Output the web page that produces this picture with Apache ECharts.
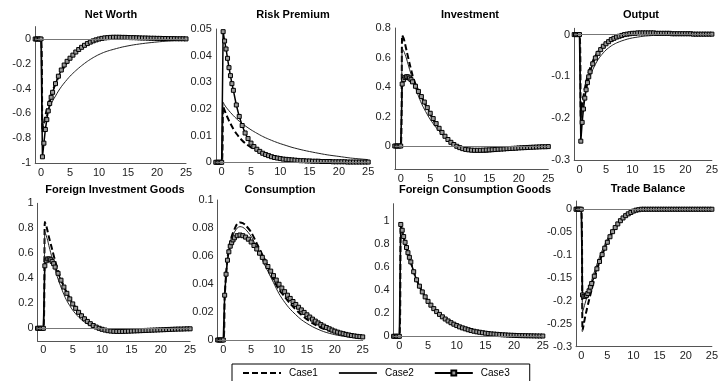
<!DOCTYPE html>
<html><head><meta charset="utf-8">
<script src="https://cdn.jsdelivr.net/npm/echarts@6/dist/echarts.min.js"></script>
<style>html,body{margin:0;padding:0;background:#fff}#c{width:721px;height:381px}</style>
</head><body><div id="c"></div>
<script>
// time grid for Case3 (marker series) and for Case1/Case2 lines
const markT = [-1,-0.75,-0.5,-0.25,0,0.25,0.5,0.75,1,1.25,1.5,1.75,2,
  2.5,3,3.5,4,4.5,5,5.5,6,6.5,7,
  7.5,8,8.5,9,9.5,10,10.5,11,11.5,12,
  12.5,13,13.5,14,14.5,15,15.5,16,16.5,17,
  17.5,18,18.5,19,19.5,20,20.5,21,21.5,22,
  22.5,23,23.5,24,24.5,25];
const lineT = [-1,0,0.25,0.5,0.75,1,1.5,2,2.5,3,3.5,4,5,6,7,8,9,10,11,12,14,16,18,20,22,25];
const xTicks = [0,5,10,15,20,25];
const legendNames = ['Case1','Case2','Case3'];

// Net Worth
const netWorth1 = [0,0,-0.75,-0.68,-0.62,-0.57,-0.49,-0.42,-0.36,-0.31,-0.265,-0.225,-0.16,-0.11,-0.07,-0.04,-0.018,-0.003,0.006,0.01,0.012,0.01,0.008,0.006,0.004,0.002];
const netWorth2 = [0,0,-0.72,-0.68,-0.64,-0.61,-0.55,-0.5,-0.46,-0.42,-0.385,-0.355,-0.3,-0.255,-0.215,-0.18,-0.15,-0.125,-0.105,-0.09,-0.065,-0.047,-0.034,-0.024,-0.016,-0.008];
const netWorth3 = [0,0,0,0,0,-0.95,-0.84,-0.73,-0.65,-0.58,-0.52,-0.47,-0.43,
  -0.36,-0.30,-0.25,-0.21,-0.18,-0.155,-0.13,-0.105,-0.085,-0.067,
  -0.051,-0.037,-0.025,-0.015,-0.007,0,0.005,0.009,0.011,0.013,
  0.014,0.014,0.014,0.013,0.013,0.012,0.011,0.011,0.01,0.009,
  0.008,0.008,0.007,0.006,0.006,0.005,0.005,0.004,0.004,0.003,
  0.003,0.003,0.002,0.002,0.002,0.001];
// Risk Premium
const riskPremium1 = [0,0,0.021,0.0195,0.018,0.0168,0.0145,0.0125,0.0108,0.0094,0.0082,0.0072,0.0056,0.0044,0.0034,0.0027,0.0021,0.0017,0.0013,0.001,0.0007,0.0005,0.0003,0.0002,0.0001,0];
const riskPremium2 = [0,0,0.0225,0.0215,0.0207,0.02,0.0187,0.0175,0.0164,0.0154,0.0145,0.0137,0.0122,0.0109,0.0097,0.0087,0.0078,0.007,0.0063,0.0056,0.0045,0.0036,0.0028,0.0022,0.0016,0.001];
const riskPremium3 = [0,0,0,0,0,0.049,0.0455,0.0425,0.039,0.0355,0.0325,0.0295,0.027,
  0.0215,0.0172,0.0138,0.011,0.0089,0.0072,0.0059,0.0049,0.0041,0.0034,
  0.0029,0.0025,0.0021,0.0018,0.0016,0.0014,0.0012,0.0011,0.001,0.0009,
  0.0008,0.0007,0.0006,0.0006,0.0005,0.0005,0.0004,0.0004,0.0004,0.0003,
  0.0003,0.0003,0.0003,0.0002,0.0002,0.0002,0.0002,0.0002,0.0001,0.0001,
  0.0001,0.0001,0.0001,0.0001,0.0001,0.0001];
// Investment
const investment1 = [0,0,0.75,0.73,0.69,0.645,0.56,0.48,0.42,0.375,0.335,0.295,0.215,0.145,0.088,0.042,0.008,-0.015,-0.028,-0.034,-0.035,-0.03,-0.024,-0.018,-0.012,-0.005];
const investment2 = [0,0,0.66,0.645,0.62,0.59,0.52,0.455,0.395,0.34,0.29,0.25,0.18,0.125,0.08,0.043,0.012,-0.012,-0.03,-0.04,-0.043,-0.036,-0.027,-0.019,-0.012,-0.005];
const investment3 = [0,0,0,0,0,0.42,0.45,0.465,0.47,0.468,0.46,0.45,0.435,
  0.405,0.37,0.335,0.298,0.26,0.222,0.186,0.152,0.12,0.092,
  0.066,0.044,0.025,0.01,-0.002,-0.011,-0.018,-0.023,-0.026,-0.028,
  -0.029,-0.029,-0.029,-0.028,-0.027,-0.026,-0.025,-0.024,-0.022,-0.021,
  -0.02,-0.018,-0.017,-0.016,-0.015,-0.013,-0.012,-0.011,-0.01,-0.009,
  -0.008,-0.007,-0.006,-0.005,-0.005,-0.004];
// Output
const output1 = [0,0,-0.2,-0.17,-0.148,-0.13,-0.1,-0.08,-0.064,-0.051,-0.041,-0.033,-0.02,-0.011,-0.005,-0.001,0.001,0.003,0.003,0.003,0.003,0.002,0.002,0.001,0.001,0];
const output2 = [0,0,-0.21,-0.185,-0.165,-0.148,-0.12,-0.1,-0.084,-0.071,-0.06,-0.051,-0.037,-0.027,-0.02,-0.015,-0.011,-0.008,-0.006,-0.004,-0.002,0,0.001,0.001,0.001,0];
const output3 = [0,0,0,0,0,-0.255,-0.21,-0.178,-0.152,-0.132,-0.115,-0.101,-0.089,
  -0.07,-0.056,-0.045,-0.036,-0.028,-0.022,-0.017,-0.012,-0.009,-0.006,
  -0.004,-0.002,0,0.001,0.002,0.003,0.003,0.004,0.004,0.004,
  0.004,0.004,0.004,0.004,0.003,0.003,0.003,0.003,0.003,0.003,
  0.002,0.002,0.002,0.002,0.002,0.002,0.002,0.002,0.001,0.001,
  0.001,0.001,0.001,0.001,0.001,0.001];
// Foreign Investment Goods
const foreignInv1 = [0,0,0.85,0.82,0.77,0.72,0.63,0.54,0.46,0.395,0.335,0.285,0.2,0.135,0.085,0.045,0.015,-0.006,-0.018,-0.025,-0.028,-0.025,-0.02,-0.015,-0.01,-0.004];
const foreignInv2 = [0,0,0.77,0.74,0.7,0.65,0.56,0.47,0.395,0.33,0.27,0.22,0.145,0.09,0.05,0.022,0.002,-0.012,-0.022,-0.027,-0.03,-0.027,-0.021,-0.016,-0.011,-0.005];
const foreignInv3 = [0,0,0,0,0,0.5,0.54,0.555,0.555,0.548,0.535,0.517,0.49,
  0.44,0.385,0.33,0.28,0.235,0.195,0.16,0.128,0.1,0.076,
  0.055,0.037,0.022,0.01,0,-0.008,-0.014,-0.019,-0.022,-0.024,
  -0.025,-0.025,-0.025,-0.024,-0.023,-0.022,-0.021,-0.02,-0.019,-0.018,
  -0.017,-0.016,-0.015,-0.014,-0.013,-0.012,-0.011,-0.01,-0.009,-0.008,
  -0.007,-0.006,-0.006,-0.005,-0.004,-0.004];
// Consumption
const consumption1 = [0,0,0.03,0.047,0.058,0.065,0.074,0.079,0.083,0.084,0.0835,0.082,0.077,0.069,0.061,0.053,0.043,0.036,0.031,0.026,0.018,0.012,0.008,0.0055,0.0037,0.002];
const consumption2 = [0,0,0.03,0.046,0.057,0.064,0.072,0.077,0.08,0.081,0.0805,0.079,0.074,0.066,0.057,0.049,0.041,0.033,0.027,0.022,0.0145,0.0095,0.006,0.0038,0.0024,0.001];
const consumption3 = [0,0,0,0,0,0.032,0.047,0.057,0.063,0.067,0.0695,0.0715,0.073,
  0.0745,0.075,0.0745,0.0735,0.072,0.07,0.0675,0.065,0.062,0.059,
  0.0558,0.0525,0.0492,0.046,0.0428,0.0398,0.0371,0.0345,0.032,0.0297,
  0.0275,0.0254,0.0234,0.0215,0.0197,0.018,0.0164,0.0149,0.0135,0.0122,
  0.011,0.0099,0.0089,0.008,0.0071,0.0063,0.0056,0.005,0.0045,0.004,
  0.0036,0.0032,0.0029,0.0026,0.0024,0.0022];
// Foreign Consumption Goods
const foreignCons1 = [0,0,0.96,0.91,0.86,0.81,0.72,0.64,0.56,0.49,0.435,0.385,0.303,0.24,0.19,0.15,0.118,0.093,0.073,0.057,0.035,0.021,0.013,0.008,0.005,0.0024];
const foreignCons2 = [0,0,0.97,0.92,0.865,0.815,0.725,0.645,0.56,0.49,0.435,0.385,0.303,0.24,0.19,0.15,0.118,0.093,0.073,0.057,0.035,0.021,0.013,0.008,0.005,0.0024];
const foreignCons3 = [0,0,0,0,0,0.97,0.92,0.865,0.815,0.77,0.725,0.685,0.645,
  0.56,0.49,0.435,0.385,0.342,0.303,0.27,0.24,0.214,0.19,
  0.169,0.15,0.133,0.118,0.105,0.093,0.082,0.073,0.065,0.057,
  0.05,0.044,0.039,0.035,0.031,0.027,0.024,0.021,0.019,0.017,
  0.015,0.013,0.012,0.01,0.009,0.008,0.007,0.006,0.0055,0.005,
  0.0045,0.004,0.0035,0.003,0.0027,0.0024];
// Trade Balance
const tradeBalance1 = [0,0,-0.265,-0.25,-0.235,-0.222,-0.198,-0.175,-0.153,-0.133,-0.115,-0.099,-0.072,-0.05,-0.033,-0.02,-0.011,-0.005,-0.002,0,0,0,0,0,0,0];
const tradeBalance2 = [0,0,-0.225,-0.215,-0.205,-0.195,-0.175,-0.155,-0.137,-0.12,-0.104,-0.09,-0.065,-0.045,-0.029,-0.017,-0.009,-0.004,-0.001,0,0,0,0,0,0,0];
const tradeBalance3 = [0,0,0,0,0,-0.187,-0.19,-0.19,-0.188,-0.184,-0.178,-0.17,-0.162,
  -0.146,-0.13,-0.114,-0.099,-0.085,-0.072,-0.06,-0.049,-0.04,-0.032,
  -0.025,-0.019,-0.014,-0.01,-0.007,-0.004,-0.002,-0.001,0,0,
  0,0,0,0,0,0,0,0,0,0,
  0,0,0,0,0,0,0,0,0,0,
  0,0,0,0,0,0];

const panels = [
  {title:'Net Worth', s:[netWorth1,netWorth2,netWorth3], yMin:-1, yMax:0.1, step:0.1, lab:0.2, box:[35.2,26.6,186,163], tx:111, ty:9},
  {title:'Risk Premium', s:[riskPremium1,riskPremium2,riskPremium3], yMin:0, yMax:0.05, step:0.01, lab:0.01, box:[215.8,29,368.2,162.3], tx:293, ty:9},
  {title:'Investment', s:[investment1,investment2,investment3], yMin:-0.16, yMax:0.8, step:0.04, lab:0.2, box:[394.8,28,548.3,169.6], tx:470, ty:9},
  {title:'Output', s:[output1,output2,output3], yMin:-0.3, yMax:0.015, step:0.05, lab:0.1, box:[574.2,28.3,724.2,160], tx:641, ty:9},
  {title:'Foreign Investment Goods', s:[foreignInv1,foreignInv2,foreignInv3], yMin:-0.1, yMax:1, step:0.1, lab:0.2, box:[37.5,203.3,190.1,340.8], tx:115, ty:184},
  {title:'Consumption', s:[consumption1,consumption2,consumption3], yMin:0, yMax:0.1, step:0.02, lab:0.02, box:[217.7,200,362.7,340], tx:280, ty:184},
  {title:'Foreign Consumption Goods', s:[foreignCons1,foreignCons2,foreignCons3], yMin:0, yMax:1.15, step:0.05, lab:0.2, box:[393.6,203.7,542.8,336.3], tx:475, ty:184},
  {title:'Trade Balance', s:[tradeBalance1,tradeBalance2,tradeBalance3], yMin:-0.3, yMax:0.018, step:0.05, lab:0.05, box:[576,201,722,346.7], tx:648, ty:183}
];

const FONT = '"Liberation Sans", Arial, sans-serif';
const isMult = (v, m) => Math.abs(v / m - Math.round(v / m)) < 1e-6;
const fmt = v => String(parseFloat(v.toFixed(4)));

const option = {animation:false, backgroundColor:'#fff', title:[], grid:[], xAxis:[], yAxis:[], series:[],
  legend:{
    data:[{name:legendNames[0], itemStyle:{opacity:0}}, {name:legendNames[1], itemStyle:{opacity:0}}, {name:legendNames[2]}],
    left:232, top:364, orient:'horizontal', itemWidth:38, itemHeight:6, itemGap:20,
    borderColor:'#000', borderWidth:1, padding:[4,20,12,10], selectedMode:false,
    textStyle:{fontFamily:FONT, fontSize:10, color:'#000', padding:[0,0,0,3]}}
};

panels.forEach((p, i) => {
  const [x0, y0, x1, y1] = p.box;
  option.grid.push({left:x0, top:y0, width:x1 - x0, height:y1 - y0, containLabel:false});
  option.title.push({text:p.title, left:p.tx, top:p.ty, textAlign:'center', padding:0,
    textStyle:{fontFamily:FONT, fontSize:11, fontWeight:'bold', color:'#000'}});
  option.xAxis.push({type:'value', gridIndex:i, min:-1, max:25, interval:1,
    axisLine:{show:true, onZero:false, lineStyle:{color:'#555', width:1}},
    axisTick:{show:false}, splitLine:{show:false},
    axisLabel:{margin:4, fontFamily:FONT, fontSize:11, color:'#222', showMinLabel:true, showMaxLabel:true,
      formatter: v => xTicks.includes(Math.round(v)) && isMult(v,1) ? String(Math.round(v)) : ''}});
  option.yAxis.push({type:'value', gridIndex:i, min:p.yMin, max:p.yMax, interval:p.step,
    axisLine:{show:true, onZero:false, lineStyle:{color:'#555', width:1}},
    axisTick:{show:false}, splitLine:{show:false},
    axisLabel:{margin:4, fontFamily:FONT, fontSize:11, color:'#222',
      formatter: v => isMult(v, p.lab) ? fmt(v) : ''}});
  const c1 = lineT.map((t, k) => [t, p.s[0][k]]);
  const c2 = lineT.map((t, k) => [t, p.s[1][k]]);
  const c3 = markT.map((t, k) => [t, p.s[2][k]]);
  option.series.push({name:'Case1', type:'line', xAxisIndex:i, yAxisIndex:i, data:c1, symbol:'none', smooth:0.25,
    lineStyle:{color:'#000', width:2, type:[6,3]}, itemStyle:{color:'#000'}, silent:true,
    markLine:{silent:true, symbol:['none','none'], label:{show:false}, animation:false,
      lineStyle:{color:'#777', width:1, type:'solid'}, data:[{yAxis:0}]}});
  option.series.push({name:'Case2', type:'line', xAxisIndex:i, yAxisIndex:i, data:c2, symbol:'none', smooth:0.25,
    lineStyle:{color:'#222', width:1}, itemStyle:{color:'#222'}, silent:true});
  option.series.push({name:'Case3', type:'line', xAxisIndex:i, yAxisIndex:i, data:c3, symbol:'rect', symbolSize:4,
    showAllSymbol:true, lineStyle:{color:'#000', width:1.5},
    itemStyle:{color:'#999', borderColor:'#000', borderWidth:1}, silent:true});
});

const chart = echarts.init(document.getElementById('c'), null, {renderer:'canvas'});
chart.setOption(option);
</script></body></html>
